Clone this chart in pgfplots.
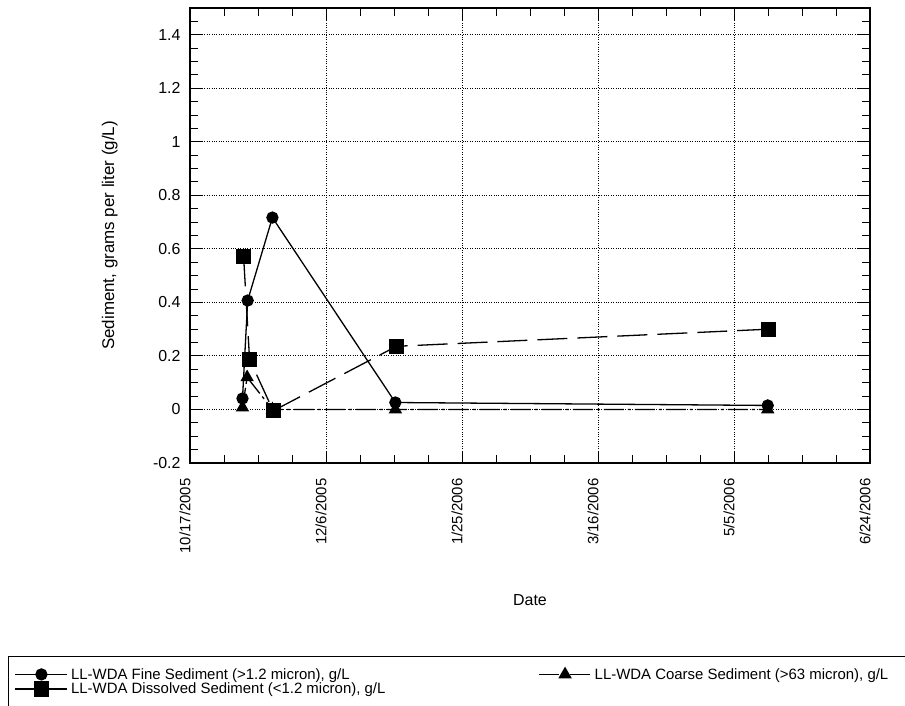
\documentclass[border=0pt]{standalone}
\usepackage{fontspec}
\setmainfont{Liberation Sans}
\usepackage{pgfplots}
\pgfplotsset{compat=1.18}
\begin{document}
\begin{tikzpicture}[x=1bp,y=1bp]
\clip (0,0) rectangle (905,706);
\begin{axis}[
  at={(190bp,243bp)}, anchor=south west,
  scale only axis, width=680bp, height=455bp,
  xmin=0, xmax=250, ymin=-0.2, ymax=1.5,
  xtick={0,50,100,150,200,250},
  xticklabels={10/17/2005,12/6/2005,1/25/2006,3/16/2006,5/5/2006,6/24/2006},
  ytick={-0.2,0,0.2,0.4,0.6,0.8,1,1.2,1.4},
  minor x tick num=3,
  minor ytick={-0.15,-0.1,-0.05,0.05,0.1,0.15,0.25,0.3,0.35,0.45,0.5,0.55,0.65,0.7,0.75,0.85,0.9,0.95,1.05,1.1,1.15,1.25,1.3,1.35,1.45,1.5},
  /pgf/number format/assume math mode=true,
  yticklabel style={font=\fontsize{16}{18}\selectfont, xshift=-6bp},
  xticklabel style={yshift=-12bp, xshift=-5bp, rotate=90, anchor=east, font=\fontsize{15}{17}\selectfont},
  major tick length=12bp, minor tick length=8bp,
  tick style={black, line width=1bp},
  axis line style={line width=1.6bp},
  xmajorgrids, ymajorgrids,
  major grid style={black, dotted, line width=0.9bp},
  xlabel={Date},
  every axis x label/.style={at={(axis description cs:0.5,-0.301)}, anchor=center, font=\fontsize{16}{18}\selectfont},
  ylabel={Sediment, grams per liter (g/L)},
  every axis y label/.style={at={(axis description cs:-0.118,0.5)}, rotate=90, anchor=center, font=\fontsize{17}{19}\selectfont},
  legend columns=2,
  legend cell align=left,
  legend image code/.code={\draw[mark repeat=2,mark phase=2] plot coordinates {(0bp,0bp) (26bp,0bp) (52bp,0bp)};},
  legend style={at={(axis description cs:-0.258,-0.4386)}, anchor=north west,
    draw=none, fill=none, font=\fontsize{15}{17}\selectfont,
    inner xsep=0bp, inner ysep=5bp, row sep=1bp,
    nodes={inner xsep=3bp, inner ysep=0.5bp},
    /tikz/every even column/.append style={column sep=150bp}},
]
\addplot[black, line width=1.3bp, mark=*, mark size=5.5bp, mark options={solid}]
  coordinates {(19.3,0.041) (21.2,0.407) (30.3,0.717) (75.5,0.026) (212.4,0.015)};
\addlegendentry{LL-WDA Fine Sediment (>1.2 micron), g/L}
\addplot[black, line width=1.3bp, dash pattern=on 20bp off 4bp on 3bp off 4bp, mark=triangle*, mark size=6.5bp, mark options={solid}]
  coordinates {(19.3,0.007) (21.0,0.12) (30.3,0.0) (75.5,0.0) (212.4,0.0)};
\addlegendentry{LL-WDA Coarse Sediment (>63 micron), g/L}
\addplot[black, line width=1.3bp, dash pattern=on 30bp off 10bp, mark=square*, mark size=7bp, mark options={solid}, legend image post style={solid}]
  coordinates {(19.7,0.572) (21.9,0.187) (30.6,-0.005) (75.9,0.236) (212.8,0.30)};
\addlegendentry{LL-WDA Dissolved Sediment (<1.2 micron), g/L}
\end{axis}
\draw[black, line width=1bp] (8,-20) rectangle (930,49);
\end{tikzpicture}
\end{document}
